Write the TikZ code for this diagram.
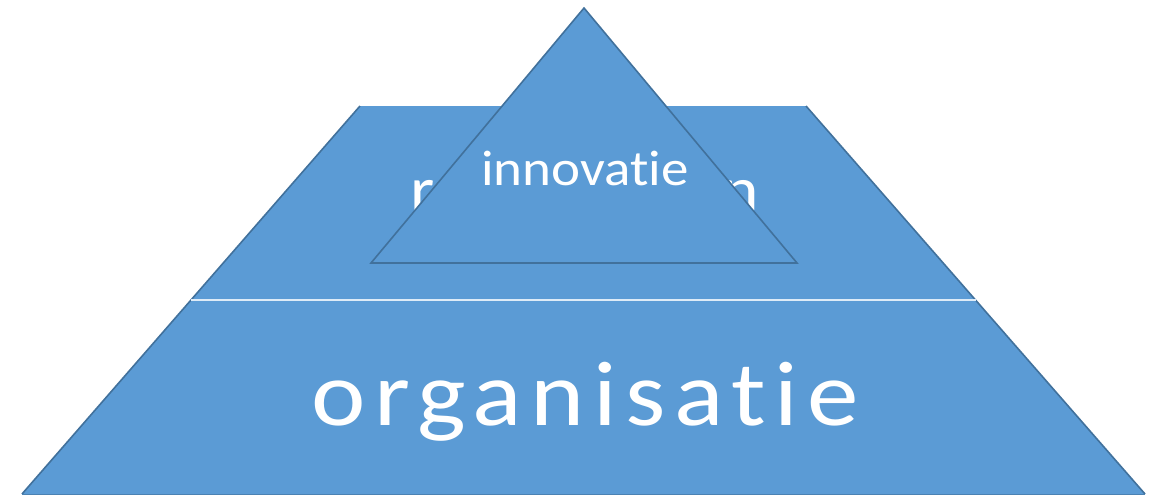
\documentclass[tikz,border=0pt]{standalone}
\usepackage{fontspec}
\setmainfont[Ligatures=NoCommon]{Carlito}
\usepackage{xcolor}

\definecolor{layerblue}{HTML}{5B9BD5}
\definecolor{edgeblue}{HTML}{41719C}

\begin{document}
\begin{tikzpicture}[x=1pt,y=1pt,yscale=-1]

    \useasboundingbox (0,0) rectangle (1158,495);
    % pyramid layers
    \fill [layerblue] (360,106) -- (806,106) -- (1145,494) -- (22,494) -- cycle;
    \draw [edgeblue, line width=1.6pt] (360,106) -- (22,494);
    \draw [edgeblue, line width=1.6pt] (806,106) -- (1145,494);
    \draw [edgeblue!60!layerblue, line width=1pt] (22,494) -- (1145,494);
    \draw [white!80!layerblue, line width=1.2pt] (191,300) -- (976,300);
    \draw (585,210) node [anchor=base, text=white, font=\fontsize{62}{72}\selectfont\addfontfeature{LetterSpace=10}] (result) {\scalebox{1.12}[1]{resultaten}};
    \draw (585,425) node [anchor=base, text=white, font=\fontsize{92}{110}\selectfont\addfontfeature{LetterSpace=8.4}] (org) {\scalebox{1.12}[1]{organisatie}};
    % top triangle
    \draw [fill=layerblue, draw=edgeblue, line width=1.6pt, line join=miter] (584,8) -- (797,263) -- (371,263) -- cycle;
    \draw (585,185) node [anchor=base, text=white, font=\fontsize{50}{60}\selectfont] (innov) {\scalebox{1.1}[1]{innovatie}};

\end{tikzpicture}
\end{document}
